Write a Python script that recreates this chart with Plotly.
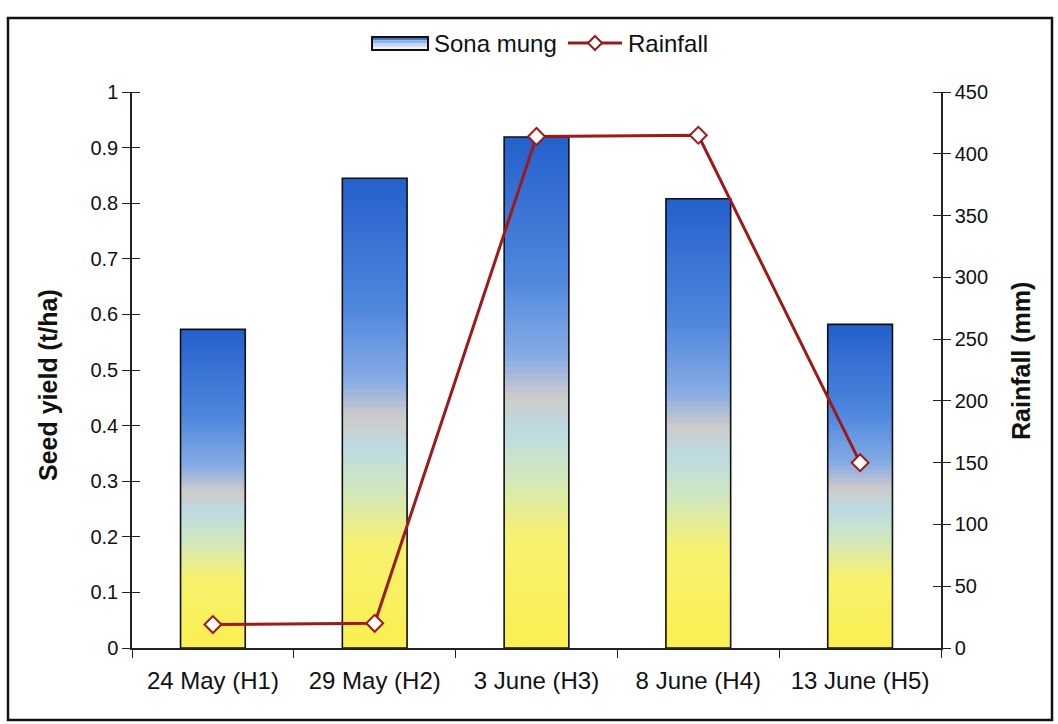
import plotly.graph_objects as go

# ---- data ----
sowing_dates = ["24 May (H1)", "29 May (H2)", "3 June (H3)", "8 June (H4)", "13 June (H5)"]
seed_yield = [0.573, 0.845, 0.919, 0.808, 0.582]      # t/ha
rainfall = [19, 20, 414, 415, 150]                     # mm

yield_ticks = [0, 0.1, 0.2, 0.3, 0.4, 0.5, 0.6, 0.7, 0.8, 0.9, 1]
yield_ticktext = ["0", "0.1", "0.2", "0.3", "0.4", "0.5", "0.6", "0.7", "0.8", "0.9", "1"]
rain_ticks = [0, 50, 100, 150, 200, 250, 300, 350, 400, 450]

# ---- styling ----
FONT = "Liberation Sans, Arial, sans-serif"
INK = "#111111"
RED = "#9e1a1a"
W, H = 1058, 724
PX0, PX1, PY0, PY1 = 132, 941, 92, 648   # plot area in pixels

def px(x):
    return (x - PX0) / (PX1 - PX0)

def py(y):
    return (PY1 - y) / (PY1 - PY0)

# vertical colour ramp of the bars (fraction of bar height -> rgb)
ramp = [
    (0.00, (250, 240, 80)),
    (0.22, (247, 241, 112)),
    (0.34, (208, 231, 192)),
    (0.43, (188, 218, 226)),
    (0.49, (206, 203, 202)),
    (0.57, (135, 172, 228)),
    (0.72, (80, 136, 222)),
    (1.00, (36, 96, 204)),
]

def ramp_color(t):
    for (t0, c0), (t1, c1) in zip(ramp[:-1], ramp[1:]):
        if t0 <= t <= t1:
            f = (t - t0) / (t1 - t0) if t1 > t0 else 0
            c = [round(a + (b - a) * f) for a, b in zip(c0, c1)]
            return f"rgb({c[0]},{c[1]},{c[2]})"
    c = ramp[-1][1]
    return f"rgb({c[0]},{c[1]},{c[2]})"

fig = go.Figure()

# gradient bars: tallest layer first, each following layer covers the lower part
N = 80
for k in range(N):
    frac = (N - k) / N
    fig.add_trace(go.Bar(
        x=sowing_dates,
        y=[v * frac for v in seed_yield],
        marker=dict(color=ramp_color(frac - 0.5 / N), line=dict(width=0)),
        showlegend=False, hoverinfo="skip", yaxis="y",
    ))

# bar outlines
fig.add_trace(go.Bar(
    x=sowing_dates, y=seed_yield, name="Sona mung",
    marker=dict(color="rgba(0,0,0,0)", line=dict(color=INK, width=1.6)),
    showlegend=False, yaxis="y",
))

# rainfall line on the secondary axis
fig.add_trace(go.Scatter(
    x=sowing_dates, y=rainfall, name="Rainfall", yaxis="y2",
    mode="lines+markers",
    line=dict(color=RED, width=3),
    marker=dict(symbol="diamond", size=13, color="white",
                line=dict(color=RED, width=2)),
    showlegend=False,
))

tickfont = dict(family=FONT, size=20, color=INK)
titlefont = dict(family=FONT, size=25, color=INK, weight="bold")
legfont = dict(family=FONT, size=24, color=INK)

shapes = [
    # outer frame
    dict(type="rect", xref="paper", yref="paper",
         x0=px(8), x1=px(1052), y0=py(720), y1=py(18),
         line=dict(color=INK, width=2.5), fillcolor="rgba(0,0,0,0)"),
]

# legend: gradient swatch for the bars
sw_x0, sw_x1, sw_y0, sw_y1 = 372, 428, 37, 50
sw_cols = ["rgb(70,120,205)", "rgb(140,178,228)", "rgb(195,215,238)", "rgb(232,240,250)"]
nstrip = len(sw_cols)
for i, c in enumerate(sw_cols):
    ya = sw_y0 + (sw_y1 - sw_y0) * i / nstrip
    yb = sw_y0 + (sw_y1 - sw_y0) * (i + 1) / nstrip
    shapes.append(dict(type="rect", xref="paper", yref="paper",
                       x0=px(sw_x0), x1=px(sw_x1), y0=py(yb), y1=py(ya),
                       line=dict(width=0), fillcolor=c, layer="above"))
shapes.append(dict(type="rect", xref="paper", yref="paper",
                   x0=px(sw_x0), x1=px(sw_x1), y0=py(sw_y1), y1=py(sw_y0),
                   line=dict(color=INK, width=2), fillcolor="rgba(0,0,0,0)",
                   layer="above"))
# legend: line with diamond for rainfall
shapes.append(dict(type="line", xref="paper", yref="paper",
                   x0=px(568), x1=px(622), y0=py(43), y1=py(43),
                   line=dict(color=RED, width=3), layer="above"))
shapes.append(dict(type="path", xref="paper", yref="paper",
                   xsizemode="pixel", ysizemode="pixel",
                   xanchor=px(595), yanchor=py(43),
                   path="M -7 0 L 0 7 L 7 0 L 0 -7 Z",
                   fillcolor="white", line=dict(color=RED, width=2),
                   layer="above"))

annotations = [
    dict(text="Sona mung", x=px(432), y=py(43), xref="paper", yref="paper",
         xanchor="left", yanchor="middle", showarrow=False, font=legfont),
    dict(text="Rainfall", x=px(626), y=py(43), xref="paper", yref="paper",
         xanchor="left", yanchor="middle", showarrow=False, font=legfont),
    # axis titles
    dict(text="Seed yield (t/ha)", x=px(48), y=py(385), xref="paper", yref="paper",
         xanchor="center", yanchor="middle", textangle=-90, showarrow=False,
         font=titlefont),
    dict(text="Rainfall (mm)", x=px(1021), y=py(361), xref="paper", yref="paper",
         xanchor="center", yanchor="middle", textangle=-90, showarrow=False,
         font=titlefont),
]

axis_common = dict(showgrid=False, zeroline=False, tickcolor="#222222", ticklen=8)

fig.update_layout(
    width=W, height=H,
    margin=dict(l=PX0, r=W - PX1, t=PY0, b=H - PY1),
    paper_bgcolor="white", plot_bgcolor="white",
    barmode="overlay", bargap=0.6,
    showlegend=False,
    xaxis=dict(
        type="category", showline=True, linecolor="#222222", linewidth=1.5,
        ticks="outside", tickson="boundaries", ticklabelstandoff=10,
        tickfont=dict(family=FONT, size=24, color=INK), **axis_common,
    ),
    yaxis=dict(
        range=[0, 1], tickvals=yield_ticks, ticktext=yield_ticktext,
        showline=True, linecolor="#222222", linewidth=1.5,
        ticks="outside", tickfont=tickfont, **axis_common,
        # inner half of the crossing tick marks
        minor=dict(tickvals=yield_ticks, ticks="inside", ticklen=8,
                   tickcolor="#222222", showgrid=False),
    ),
    yaxis2=dict(
        range=[0, 450], tickvals=rain_ticks, overlaying="y", side="right",
        showline=True, linecolor="#222222", linewidth=1.5,
        ticks="outside", tickfont=tickfont, **axis_common,
        minor=dict(tickvals=rain_ticks, ticks="inside", ticklen=8,
                   tickcolor="#222222", showgrid=False),
    ),
    shapes=shapes,
    annotations=annotations,
)

fig.write_html("out.html")
